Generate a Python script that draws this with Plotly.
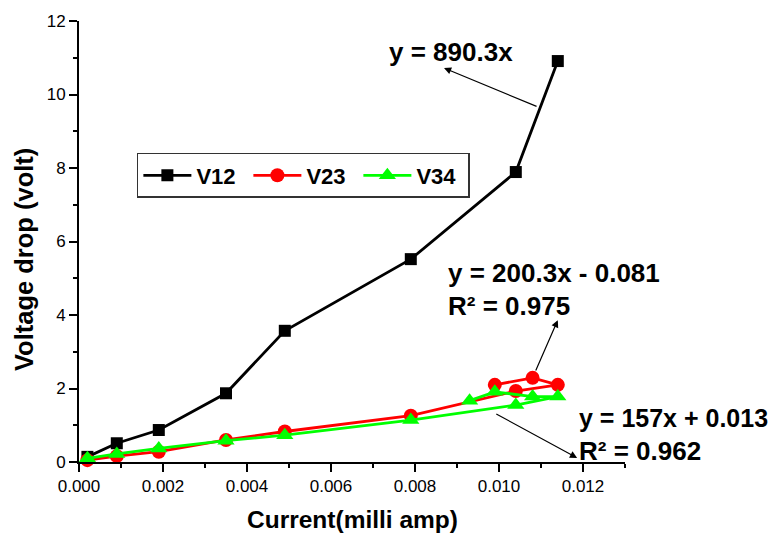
import plotly.graph_objects as go

# ---- data ----
v12_x = [0.0002, 0.0009, 0.0019, 0.0035, 0.0049, 0.0079, 0.0104, 0.0114]
v12_y = [0.14, 0.51, 0.87, 1.87, 3.57, 5.52, 7.89, 10.91]

v23_x = [0.0002, 0.0009, 0.0019, 0.0035, 0.0049, 0.0079, 0.0104, 0.0114, 0.0108, 0.0099]
v23_y = [0.05, 0.16, 0.28, 0.60, 0.83, 1.26, 1.93, 2.10, 2.29, 2.10]

v34_x = [0.0002, 0.0009, 0.0019, 0.0035, 0.0049, 0.0079, 0.0104, 0.0114, 0.0108, 0.0099, 0.0093]
v34_y = [0.10, 0.22, 0.37, 0.58, 0.73, 1.14, 1.55, 1.78, 1.78, 1.91, 1.67]

series_names = ["V12", "V23", "V34"]

eq_texts = ["y = 890.3x", "y = 200.3x - 0.081", "R\u00b2 = 0.975", "y = 157x + 0.013", "R\u00b2 = 0.962"]
x_title = "Current(milli amp)"
y_title = "Voltage drop (volt)"

FONT = "Liberation Sans, Arial, sans-serif"

fig = go.Figure()
fig.add_trace(go.Scatter(x=v12_x, y=v12_y, name=series_names[0], mode="lines+markers",
                         line=dict(color="black", width=2.8),
                         marker=dict(symbol="square", size=12, color="black"), cliponaxis=False))
fig.add_trace(go.Scatter(x=v23_x, y=v23_y, name=series_names[1], mode="lines+markers",
                         line=dict(color="#ff0000", width=2.8),
                         marker=dict(symbol="circle", size=14, color="#ff0000"), cliponaxis=False))
fig.add_trace(go.Scatter(x=v34_x, y=v34_y, name=series_names[2], mode="lines+markers",
                         line=dict(color="#00ff00", width=2.8),
                         marker=dict(symbol="triangle-up", size=15, color="#00ff00"), cliponaxis=False))

ann = []
label_pos = [(0.00733, 11.16), (0.00874, 5.14), (0.00874, 4.24), (0.01186, 1.20), (0.01186, 0.30)]
label_size = [26, 26, 26, 25, 26]
for (lx, ly), t, s in zip(label_pos, eq_texts, label_size):
    ann.append(dict(x=lx, y=ly, xref="x", yref="y", text=t,
                    showarrow=False, xanchor="left", yanchor="middle",
                    font=dict(family=FONT, size=s, color="black", weight="bold")))
# arrows (head at (x,y), tail at (ax,ay))
arrows = [((0.00869, 10.72), (0.01093, 9.66)),
          ((0.0114, 3.86), (0.01086, 2.45)),
          ((0.01186, 0.11), (0.0099, 1.33))]
for (hx, hy), (tx, ty) in arrows:
    ann.append(dict(x=hx, y=hy, ax=tx, ay=ty, xref="x", yref="y", axref="x", ayref="y",
                    text="", showarrow=True, arrowhead=2, arrowsize=1.2, arrowwidth=1.2,
                    arrowcolor="black", standoff=0, startstandoff=0))
# axis titles
ann.append(dict(x=-0.1007, y=0.458, xref="paper", yref="paper", text=y_title,
                textangle=-90, showarrow=False, xanchor="center", yanchor="middle",
                font=dict(family=FONT, size=25.5, color="black", weight="bold")))
ann.append(dict(x=0.5, y=-0.1315, xref="paper", yref="paper", text=x_title,
                showarrow=False, xanchor="center", yanchor="middle",
                font=dict(family=FONT, size=24.5, color="black", weight="bold")))

# page body has an 8px margin, so the figure is sized/offset to compensate
fig.update_layout(
    width=771, height=525,
    margin=dict(l=71, r=154, t=13, b=71, pad=0, autoexpand=False),
    paper_bgcolor="white", plot_bgcolor="white",
    font=dict(family=FONT, color="black"),
    showlegend=True,
    legend=dict(orientation="h", x=0.106, y=0.7007, xanchor="left", yanchor="top",
                bgcolor="white", bordercolor="#333333", borderwidth=1.5,
                font=dict(family=FONT, size=22, color="black", weight="bold"),
                itemwidth=48, entrywidth=47, entrywidthmode="pixels", tracegroupgap=0),
    annotations=ann,
    xaxis=dict(range=[0, 0.013], dtick=0.002, tick0=0, tickformat=".3f",
               showgrid=False, zeroline=False, showline=True, linecolor="black", linewidth=2,
               ticks="outside", ticklen=8, tickwidth=1.5, tickcolor="black",
               tickfont=dict(family=FONT, size=17, color="black"),
               minor=dict(dtick=0.001, ticks="outside", ticklen=4, tickwidth=1.5, tickcolor="black")),
    yaxis=dict(range=[0, 12], dtick=2, tick0=0,
               showgrid=False, zeroline=False, showline=True, linecolor="black", linewidth=2,
               ticks="outside", ticklen=8, tickwidth=1.5, tickcolor="black",
               tickfont=dict(family=FONT, size=17, color="black"),
               minor=dict(dtick=1, ticks="outside", ticklen=4, tickwidth=1.5, tickcolor="black")),
)

fig.write_html("out.html")
